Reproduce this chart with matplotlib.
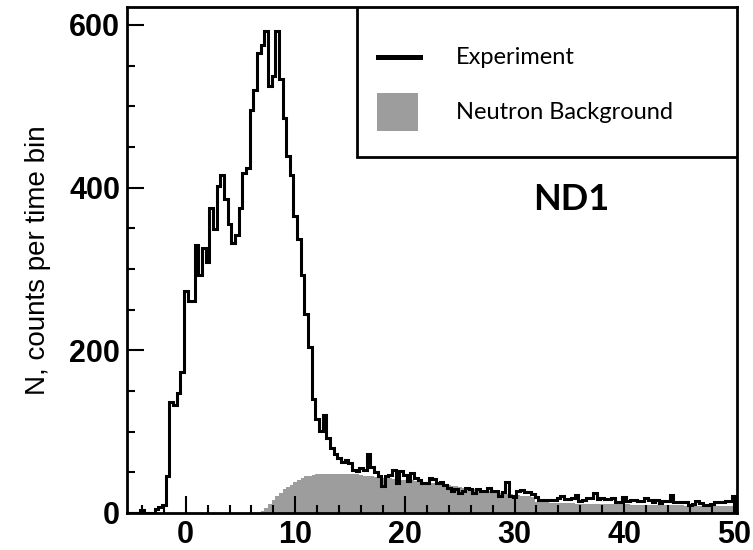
import matplotlib.pyplot as plt
import numpy as np
from matplotlib.lines import Line2D
from matplotlib.patches import Rectangle
from matplotlib.ticker import MultipleLocator

# time bins (ns), 1/3 ns wide, first edge at -5.5
bin_width = 1 / 3
first_edge = -5.5

experiment = [
    0, 0, 0, 0, 4, 0, 0, 0, 5, 7,
    10, 45, 137, 133, 147, 173, 273, 261, 261, 329,
    293, 326, 308, 375, 349, 402, 416, 386, 355, 332,
    342, 375, 418, 424, 495, 520, 565, 575, 592, 525,
    537, 592, 533, 486, 439, 416, 365, 337, 292, 245,
    204, 140, 116, 101, 120, 92, 80, 72, 67, 63,
    65, 62, 53, 51, 55, 53, 73, 57, 50, 45,
    33, 45, 47, 53, 37, 51, 47, 39, 49, 43,
    41, 37, 37, 43, 42, 37, 38, 35, 31, 27,
    29, 25, 27, 31, 29, 25, 29, 27, 27, 31,
    27, 27, 21, 26, 38, 21, 20, 27, 28, 26,
    26, 23, 20, 16, 16, 16, 16, 16, 18, 21,
    17, 17, 19, 22, 15, 16, 18, 18, 24, 17,
    18, 17, 17, 18, 14, 14, 20, 15, 16, 16,
    15, 15, 18, 16, 14, 16, 12, 15, 15, 22,
    14, 14, 14, 13, 10, 11, 15, 12, 10, 10,
    11, 14, 14, 14, 15, 15, 21,
]

background = [0] * 37 + [
    2, 6, 11, 16, 21, 25, 29, 32, 35, 38,
    41, 43, 45, 46, 47,
    48, 48, 48, 48, 48, 48, 48, 48, 48, 48, 48, 48,
    47, 46, 46, 45, 44, 44, 43, 43, 43, 42,
    42, 41, 41, 40, 40, 39, 39, 38, 38, 37,
    37, 36, 35, 35, 34, 33, 33, 32, 31, 31,
    30, 30, 29, 28, 27, 27, 26, 25, 25, 24,
    23, 23, 22, 22, 21, 21, 21, 20,
    13, 13, 13, 13, 12, 12, 12, 12, 12, 12, 12,
] + [11] * 15 + [10] * 15 + [9] * 10 + [8] * 4

x_ticks = [0, 10, 20, 30, 40, 50]
y_ticks = [0, 200, 400, 600]

edges = first_edge + bin_width * np.arange(len(experiment) + 1)

fig = plt.figure(figsize=(7.53, 5.5), dpi=100)
ax = fig.add_axes([0.1687, 0.0673, 0.8101, 0.92])

ax.stairs(background, edges, fill=True, color='#9d9d9d', lw=0)
ax.stairs(experiment, edges, baseline=0, color='black', lw=2.2)

ax.set_xlim(-5.35, 50.3)
ax.set_ylim(0, 622)
ax.set_xticks(x_ticks)
ax.set_yticks(y_ticks)
ax.xaxis.set_minor_locator(MultipleLocator(2))
ax.yaxis.set_minor_locator(MultipleLocator(50))
ax.tick_params(which='both', direction='in', width=1.5, top=False, right=False)
ax.tick_params(which='major', length=12, pad=5)
ax.tick_params(which='minor', length=6)
for lab in ax.get_xticklabels() + ax.get_yticklabels():
    lab.set_fontfamily('Liberation Sans')
    lab.set_fontweight('bold')
    lab.set_fontsize(22)
for sp in ax.spines.values():
    sp.set_linewidth(2)

ax.set_ylabel('N, counts per time bin', fontsize=20, family='Liberation Sans')
ax.yaxis.set_label_coords(-0.125, 0.50)

# legend box, drawn by hand in the upper right corner
ax.add_patch(Rectangle((0.377, 0.703), 0.623, 0.297, transform=ax.transAxes,
                       facecolor='white', edgecolor='black', lw=2, zorder=5))
ax.add_line(Line2D([0.411, 0.480], [0.901, 0.901], transform=ax.transAxes,
                   color='black', lw=3.6, zorder=6))
ax.add_patch(Rectangle((0.410, 0.755), 0.067, 0.075, transform=ax.transAxes,
                       facecolor='#9d9d9d', edgecolor='none', zorder=6))
ax.text(0.539, 0.901, 'Experiment', transform=ax.transAxes, fontsize=17,
        family='Lato', va='center', ha='left', zorder=7)
ax.text(0.539, 0.791, 'Neutron Background', transform=ax.transAxes, fontsize=17,
        family='Lato', va='center', ha='left', zorder=7)

ax.text(0.728, 0.619, 'ND1', transform=ax.transAxes, fontsize=26,
        family='Lato', weight='bold', va='center', ha='center')

fig.savefig('out.png', dpi=100)
